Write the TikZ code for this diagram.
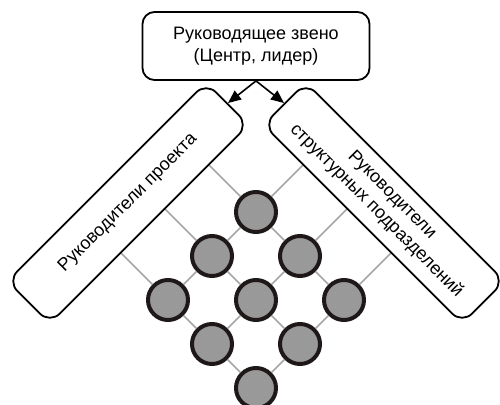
\documentclass[tikz,border=0pt]{standalone}
\usepackage{fontspec}
\setmainfont{Liberation Sans}
\usetikzlibrary{arrows.meta}
\definecolor{circfill}{RGB}{153,153,153}
\definecolor{circline}{RGB}{30,24,24}
\definecolor{gridline}{RGB}{165,165,165}
\begin{document}
\begin{tikzpicture}[x=1pt,y=-1pt,
  box/.style={draw, line width=1.8pt, rounded corners=12pt, fill=white, align=center, inner sep=0pt, font=\fontsize{18}{22}\selectfont},
  band/.style={box, minimum width=281pt, minimum height=60pt, rounded corners=14pt},
  dot/.style={circle, draw=circline, fill=circfill, line width=4pt, minimum size=40pt, inner sep=0pt},
  gridln/.style={draw=gridline, line width=1.5pt},
  arr/.style={-{Triangle[length=13pt,width=11pt]}, line width=1.6pt}]
\useasboundingbox (0,0) rectangle (500,404);
% circles
\node[dot] (c00) at (256,212) {};
\node[dot] (c10) at (300,256) {};
\node[dot] (c20) at (344,300) {};
\node[dot] (c01) at (212,256) {};
\node[dot] (c11) at (256,300) {};
\node[dot] (c21) at (300,344) {};
\node[dot] (c02) at (168,300) {};
\node[dot] (c12) at (212,344) {};
\node[dot] (c22) at (256,388) {};
% grid line starts on band edges
\coordinate (L0) at (206.7,162.7);
\coordinate (L1) at (162.7,206.7);
\coordinate (L2) at (118.7,250.7);
\coordinate (R0) at (305.3,162.7);
\coordinate (R1) at (349.3,206.7);
\coordinate (R2) at (393.3,250.7);
\draw[gridln] (L0) -- (c00) -- (c10) -- (c20);
\draw[gridln] (L1) -- (c01) -- (c11) -- (c21);
\draw[gridln] (L2) -- (c02) -- (c12) -- (c22);
\draw[gridln] (R0) -- (c00) -- (c01) -- (c02);
\draw[gridln] (R1) -- (c10) -- (c11) -- (c12);
\draw[gridln] (R2) -- (c20) -- (c21) -- (c22);
% bands
\node[band, rotate=45] (proj) at (128,203) {Руководители проекта};
\node[band, rotate=-45] (struct) at (384,203) {Руководители\\структурных подразделений};
% top box
\node[box, minimum width=227pt, minimum height=68pt] (top) at (256,46) {Руководящее звено\\(Центр, лидер)};
% arrows
\draw[arr] (top.south) -- (proj.east);
\draw[arr] (top.south) -- (struct.west);
\end{tikzpicture}
\end{document}
